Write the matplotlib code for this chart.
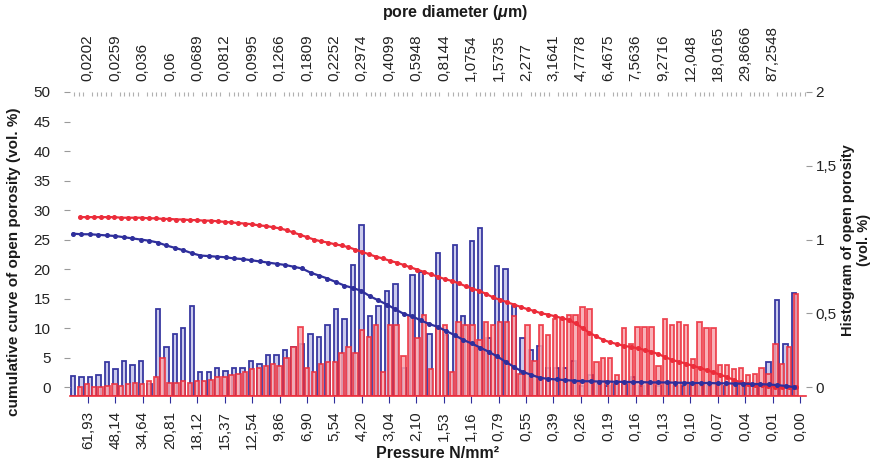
import matplotlib
matplotlib.use("Agg")
import matplotlib.pyplot as plt
from matplotlib.ticker import FixedLocator, MultipleLocator, FuncFormatter

plt.rcParams['font.family'] = ['Liberation Sans', 'DejaVu Sans']
plt.rcParams['mathtext.fontset'] = 'custom'
plt.rcParams['mathtext.it'] = 'Liberation Sans:italic:bold'
plt.rcParams['mathtext.rm'] = 'Liberation Sans:bold'

# ---- axis labels -------------------------------------------------------
pressure_labels = ["61,93", "48,14", "34,64", "20,81", "18,12", "15,37", "12,54",
                   "9,86", "6,90", "5,54", "4,20", "3,04", "2,10", "1,53", "1,16",
                   "0,79", "0,55", "0,39", "0,26", "0,19", "0,16", "0,13", "0,10",
                   "0,07", "0,04", "0,01", "0,00"]
diameter_labels = ["0,0202", "0,0259", "0,036", "0,06", "0,0689", "0,0812", "0,0995",
                   "0,1266", "0,1809", "0,2252", "0,2974", "0,4099", "0,5948", "0,8144",
                   "1,0754", "1,5735", "2,277", "3,1641", "4,7778", "6,4675", "7,5636",
                   "9,2716", "12,048", "18,0165", "29,8666", "87,2548"]

# ---- sample A (blue): histogram (vol. %) and cumulative curve (vol. %) --
blue_hist = [0.075, 0.07, 0.07, 0.08, 0.17, 0.12, 0.18, 0.15, 0.18, 0.02,
             0.53, 0.27, 0.36, 0.40, 0.55, 0.10, 0.10, 0.13, 0.11, 0.13,
             0.13, 0.18, 0.16, 0.22, 0.22, 0.25, 0.27, 0.29, 0.36, 0.34,
             0.42, 0.53, 0.46, 0.83, 1.10, 0.48, 0.55, 0.65, 0.70, 0.13,
             0.76, 0.78, 0.36, 0.91, 0.35, 0.96, 0.48, 0.99, 1.08, 0.33,
             0.82, 0.80, 0.55, 0.33, 0.25, 0.28, 0.13, 0.13, 0.13, 0.18,
             0.01, 0.08, 0.02, 0.01, 0.02, 0.02, 0.07, 0.01, 0.02, 0.01,
             0.02, 0.01, 0.01, 0.02, 0.01, 0.01, 0.02, 0.01, 0.03, 0.02,
             0.01, 0.02, 0.17, 0.59, 0.29, 0.64]
blue_cum = [26.0, 25.9, 25.9, 25.8, 25.7, 25.6, 25.4, 25.2, 25.0, 24.8,
            24.5, 24.0, 23.6, 23.2, 22.7, 22.3, 22.2, 22.1, 22.0, 21.8,
            21.7, 21.5, 21.3, 21.1, 20.9, 20.7, 20.4, 20.1, 19.4, 18.9,
            18.4, 17.8, 17.2, 16.8, 16.3, 15.4, 14.7, 14.0, 13.2, 12.4,
            12.0, 11.3, 10.7, 10.2, 9.5, 8.8, 8.0, 7.4, 6.7, 6.0,
            5.2, 4.3, 3.4, 2.6, 2.1, 1.6, 1.4, 1.3, 1.2, 1.1,
            1.0, 1.0, 0.95, 0.95, 0.9, 0.9, 0.85, 0.85, 0.8, 0.8,
            0.8, 0.75, 0.75, 0.7, 0.7, 0.7, 0.65, 0.65, 0.6, 0.6,
            0.55, 0.5, 0.45, 0.35, 0.2, 0.0]

# ---- sample B (red) -----------------------------------------------------
red_hist = [0.00, 0.02, 0.00, 0.00, 0.01, 0.02, 0.01, 0.02, 0.03, 0.02,
            0.04, 0.07, 0.20, 0.03, 0.03, 0.04, 0.03, 0.04, 0.04, 0.05,
            0.07, 0.07, 0.08, 0.09, 0.10, 0.12, 0.13, 0.14, 0.16, 0.14,
            0.20, 0.27, 0.41, 0.13, 0.10, 0.16, 0.17, 0.17, 0.23, 0.27,
            0.23, 0.39, 0.34, 0.42, 0.10, 0.42, 0.42, 0.21, 0.48, 0.33,
            0.49, 0.12, 0.40, 0.42, 0.10, 0.44, 0.42, 0.42, 0.32, 0.44,
            0.42, 0.44, 0.44, 0.48, 0.09, 0.42, 0.18, 0.42, 0.35, 0.46,
            0.46, 0.49, 0.49, 0.54, 0.53, 0.17, 0.20, 0.20, 0.08, 0.40,
            0.29, 0.41, 0.41, 0.41, 0.14, 0.46, 0.42, 0.44, 0.42, 0.19,
            0.44, 0.40, 0.40, 0.15, 0.15, 0.12, 0.13, 0.08, 0.09, 0.13,
            0.09, 0.29, 0.16, 0.27, 0.63]
red_cum = [28.8, 28.8, 28.8, 28.8, 28.8, 28.8, 28.7, 28.7, 28.7, 28.7,
           28.6, 28.6, 28.5, 28.5, 28.4, 28.4, 28.3, 28.3, 28.2, 28.2,
           28.1, 28.0, 27.9, 27.8, 27.7, 27.6, 27.4, 27.3, 27.1, 26.9,
           26.6, 26.2, 25.8, 25.4, 25.0, 24.7, 24.5, 24.2, 24.0, 23.7,
           23.3, 22.9, 22.5, 22.1, 21.8, 21.4, 21.1, 20.7, 20.3, 19.9,
           19.5, 19.1, 18.7, 18.3, 18.0, 17.6, 17.1, 16.7, 16.3, 15.8,
           15.2, 14.8, 14.4, 14.0, 13.6, 13.2, 12.9, 12.5, 12.3, 12.0,
           11.7, 11.4, 10.8, 10.0, 9.2, 8.6, 8.0, 7.6, 7.3, 7.0,
           6.8, 6.6, 6.3, 6.0, 5.6, 5.1, 4.6, 4.3, 4.0, 3.6,
           3.3, 2.9, 2.5, 2.1, 1.7, 1.2, 0.8, 0.6, 0.4, 0.3,
           0.2, 0.1, 0.1, 0.0, 0.0]

BLUE = '#2f2f9c'
BLUE_FILL = '#c9c9ec'
RED = '#ec2c3a'
RED_FILL = '#f7a4ac'
GREY = '#9a9a9a'

W, H = 875, 465
fig = plt.figure(figsize=(W / 100, H / 100), dpi=100)
rect = [70 / W, 1 - 396 / H, 736 / W, 304 / H]

CUM_LIM = (-1.5, 50)
HIST_LIM = (-0.06, 2)


def layer(zorder):
    ax = fig.add_axes(rect, zorder=zorder)
    ax.patch.set_visible(False)
    for s in ax.spines.values():
        s.set_visible(False)
    ax.set_xticks([])
    ax.set_yticks([])
    return ax


# histogram layers (right axis scale)
ax_bh = layer(1)
ax_rh = layer(2)
nb, nr = len(blue_hist), len(red_hist)
ax_bh.set_xlim(-0.35, nb + 0.4)
ax_rh.set_xlim(-1.45, nr + 0.45)
for ax in (ax_bh, ax_rh):
    ax.set_ylim(*HIST_LIM)

floor = HIST_LIM[0]
ax_bh.bar(range(nb), [v - floor for v in blue_hist], bottom=floor, width=0.52,
          color=BLUE_FILL, edgecolor=BLUE, linewidth=1.3, alpha=0.95)
ax_rh.bar(range(nr), [v - floor for v in red_hist], bottom=floor, width=0.64,
          color=RED_FILL, edgecolor=RED, linewidth=1.3, alpha=0.85)

# cumulative curve layers (left axis scale)
ax_bc = layer(4)
ax_rc = layer(3)
ax_bc.set_xlim(-0.35, nb + 0.4)
ax_rc.set_xlim(-1.45, nr + 0.45)
for ax in (ax_bc, ax_rc):
    ax.set_ylim(*CUM_LIM)
ax_rc.plot(range(nr), red_cum, color=RED, lw=1.6, marker='o', ms=2.6,
           mec=RED, mfc=RED)
ax_bc.plot(range(nb), blue_cum, color=BLUE, lw=1.6, marker='o', ms=2.6,
           mec=BLUE, mfc=BLUE)

# axes carrying the ticks and tick labels
ax_y = layer(5)
ax_y.set_ylim(*CUM_LIM)
ax_y.set_yticks(range(0, 51, 5))
ax_y.tick_params(axis='y', left=True, length=4, color=GREY, labelsize=11,
                 pad=10, labelcolor='#222222')

ax_y2 = ax_y.twinx()
ax_y2.set_zorder(5)
for s in ax_y2.spines.values():
    s.set_visible(False)
ax_y2.set_ylim(*HIST_LIM)
ax_y2.set_yticks([0, 0.5, 1, 1.5, 2])
ax_y2.yaxis.set_major_formatter(
    FuncFormatter(lambda v, p: ('%g' % v).replace('.', ',')))
ax_y2.tick_params(axis='y', right=True, length=4, color=GREY, labelsize=11,
                  pad=3, labelcolor='#222222')
ax_y2.set_xticks([])

ax_x = layer(6)
ax_x.set_xlim(-0.65, 26.22)
ax_x.set_ylim(0, 1)
ax_x.xaxis.set_major_locator(FixedLocator(range(len(pressure_labels))))
ax_x.set_xticklabels(pressure_labels, rotation=90)
ax_x.tick_params(axis='x', bottom=True, length=5, color=BLUE, labelsize=11,
                 pad=6, labelcolor='#222222')
ax_x.spines['bottom'].set_visible(True)
ax_x.spines['bottom'].set_color(RED)
ax_x.spines['bottom'].set_linewidth(1.2)

ax_top = ax_x.twiny()
ax_top.set_zorder(6)
for s in ax_top.spines.values():
    s.set_visible(False)
ax_top.set_xlim(-0.65, 26.22)
ax_top.set_xticks(range(len(diameter_labels)))
ax_top.set_xticklabels(diameter_labels, rotation=90)
ax_top.xaxis.set_minor_locator(MultipleLocator(1 / 6))
ax_top.tick_params(axis='x', which='major', top=True, length=0, labelsize=11,
                   pad=8, labelcolor='#222222')
ax_top.tick_params(axis='x', which='minor', top=True, length=3, width=0.8,
                   color='#b0b0b0', direction='in')
ax_top.set_yticks([])

# axis titles
fig.text(455 / W, 1 - 13 / H, r'pore diameter ($\mu$m)', ha='center', va='center',
         fontsize=11.5, fontweight='bold', color='#1a1a1a')
fig.text(438 / W, 1 - 453 / H, 'Pressure N/mm²', ha='center', va='center',
         fontsize=11.5, fontweight='bold', color='#1a1a1a')
fig.text(14 / W, 1 - 262 / H, 'cumulative curve of open porosity (vol. %)',
         rotation=90, ha='center', va='center', fontsize=11,
         fontweight='bold', color='#1a1a1a')
fig.text(856 / W, 1 - 240 / H, 'Histogram of open porosity\n(vol. %)',
         rotation=90, ha='center', va='center', fontsize=10.5,
         fontweight='bold', color='#1a1a1a', linespacing=1.1)

fig.savefig('out.png', dpi=100, facecolor='white')
